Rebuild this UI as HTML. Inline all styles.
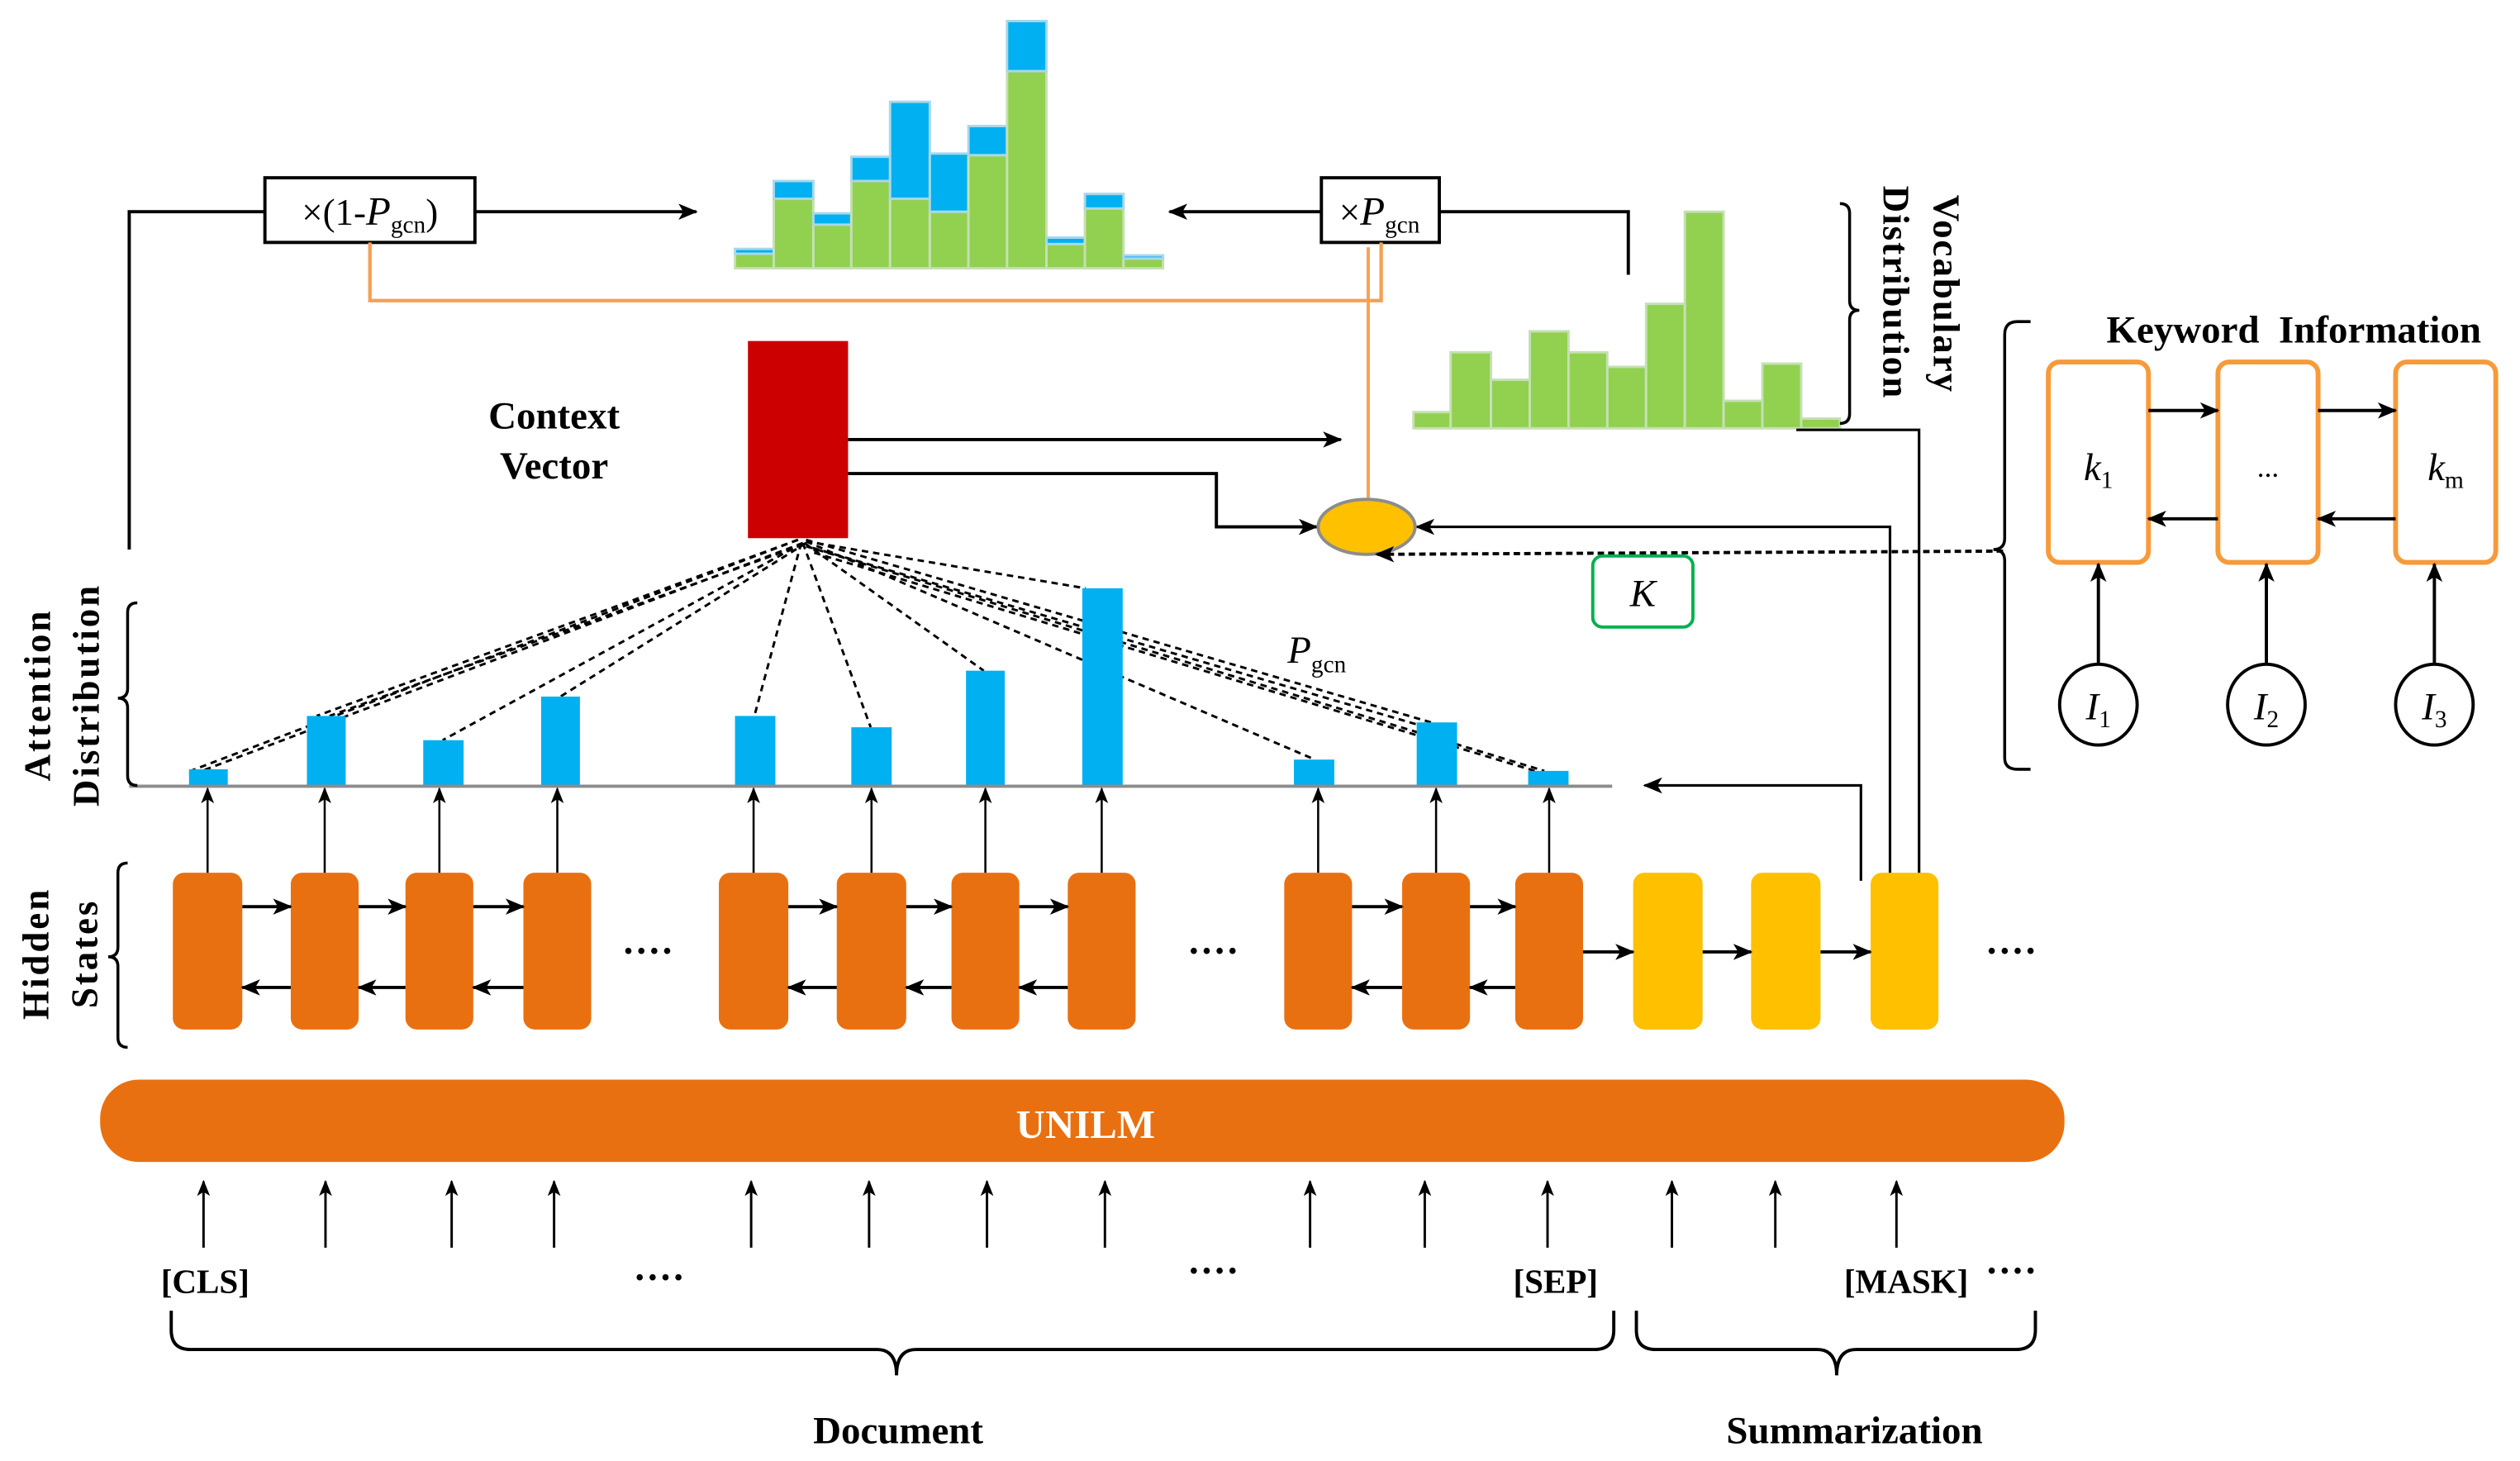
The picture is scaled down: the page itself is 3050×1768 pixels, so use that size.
<!DOCTYPE html>
<html><head><meta charset="utf-8"><style>
html,body{margin:0;padding:0;background:#fff}
svg{display:block}
svg text{font-family:"Liberation Serif","Times New Roman",serif}
.b{font-weight:bold}
</style></head><body>
<svg width="3050" height="1768" viewBox="0 0 1560 904" preserveAspectRatio="none" xmlns="http://www.w3.org/2000/svg" font-family="Liberation Serif, serif">
<defs>
<marker id="a" markerUnits="userSpaceOnUse" markerWidth="12" markerHeight="10" refX="11" refY="5" orient="auto"><path d="M0,0 L12,5 L0,10 L3,5 Z" fill="#000"/></marker>
<marker id="s" markerUnits="userSpaceOnUse" markerWidth="10" markerHeight="8" refX="9" refY="4" orient="auto"><path d="M0,0 L10,4 L0,8 L2.5,4 Z" fill="#000"/></marker>
</defs>

<!-- top left branch -->
<path d="M80,340 V131 H164" fill="none" stroke="#000" stroke-width="2"/>
<rect x="164" y="110" width="130" height="40" fill="#fff" stroke="#000" stroke-width="2"/>
<text x="229" y="139" font-size="23" text-anchor="middle">×(1-<tspan font-style="italic" font-size="25">P</tspan><tspan font-size="15" dy="5">gcn</tspan><tspan dy="-5">)</tspan></text>
<line x1="294" y1="131" x2="431" y2="131" stroke="#000" stroke-width="2" marker-end="url(#a)"/>

<!-- Pgcn box -->
<rect x="818" y="110" width="73" height="40" fill="#fff" stroke="#000" stroke-width="2"/>
<text x="854" y="139" font-size="23" text-anchor="middle">×<tspan font-style="italic" font-size="25">P</tspan><tspan font-size="15" dy="5">gcn</tspan></text>
<line x1="818" y1="131" x2="724" y2="131" stroke="#000" stroke-width="2" marker-end="url(#a)"/>
<path d="M891,131 H1008 V170" fill="none" stroke="#000" stroke-width="2"/>

<!-- orange lines -->
<path d="M229,150 V186 H855 V150" fill="none" stroke="#f5a055" stroke-width="2.2"/>
<line x1="847" y1="153" x2="847" y2="308" stroke="#f5a055" stroke-width="2"/>

<!-- mixed histogram -->
<g stroke-width="1.5">
<rect x="455" y="157" width="24" height="9" fill="#92d050" stroke="#c5e0b4"/><rect x="455" y="154" width="24" height="3" fill="#00b0f0" stroke="#a8d8ea"/>
<rect x="479" y="123" width="24.5" height="43" fill="#92d050" stroke="#c5e0b4"/><rect x="479" y="112" width="24.5" height="11" fill="#00b0f0" stroke="#a8d8ea"/>
<rect x="503.5" y="139" width="23.5" height="27" fill="#92d050" stroke="#c5e0b4"/><rect x="503.5" y="132" width="23.5" height="7" fill="#00b0f0" stroke="#a8d8ea"/>
<rect x="527" y="112" width="24" height="54" fill="#92d050" stroke="#c5e0b4"/><rect x="527" y="97" width="24" height="15" fill="#00b0f0" stroke="#a8d8ea"/>
<rect x="551" y="123" width="24.6" height="43" fill="#92d050" stroke="#c5e0b4"/><rect x="551" y="63" width="24.6" height="60" fill="#00b0f0" stroke="#a8d8ea"/>
<rect x="575.6" y="131" width="23.9" height="35" fill="#92d050" stroke="#c5e0b4"/><rect x="575.6" y="95" width="23.9" height="36" fill="#00b0f0" stroke="#a8d8ea"/>
<rect x="599.5" y="96" width="23.9" height="70" fill="#92d050" stroke="#c5e0b4"/><rect x="599.5" y="78" width="23.9" height="18" fill="#00b0f0" stroke="#a8d8ea"/>
<rect x="623.4" y="44" width="24.4" height="122" fill="#92d050" stroke="#c5e0b4"/><rect x="623.4" y="13" width="24.4" height="31" fill="#00b0f0" stroke="#a8d8ea"/>
<rect x="647.8" y="151" width="23.8" height="15" fill="#92d050" stroke="#c5e0b4"/><rect x="647.8" y="147" width="23.8" height="4" fill="#00b0f0" stroke="#a8d8ea"/>
<rect x="671.6" y="129" width="23.9" height="37" fill="#92d050" stroke="#c5e0b4"/><rect x="671.6" y="120" width="23.9" height="9" fill="#00b0f0" stroke="#a8d8ea"/>
<rect x="695.5" y="160" width="24.5" height="6" fill="#92d050" stroke="#c5e0b4"/><rect x="695.5" y="158" width="24.5" height="2" fill="#00b0f0" stroke="#a8d8ea"/>
</g>

<!-- vocab histogram -->
<g fill="#92d050" stroke="#c5e0b4" stroke-width="1.5">
<rect x="875" y="255" width="23" height="10"/>
<rect x="898" y="218" width="25" height="47"/>
<rect x="923" y="235" width="24" height="30"/>
<rect x="947" y="205" width="24" height="60"/>
<rect x="971" y="218" width="24" height="47"/>
<rect x="995" y="227" width="24" height="38"/>
<rect x="1019" y="188" width="24" height="77"/>
<rect x="1043" y="131" width="24" height="134"/>
<rect x="1067" y="248" width="24" height="17"/>
<rect x="1091" y="225" width="24" height="40"/>
<rect x="1115" y="259" width="24" height="6"/>
</g>
<path d="M1139,126 q6,0 6,6 v54 q0,6 6,6 q-6,0 -6,6 v58 q0,6 -6,6" fill="none" stroke="#000" stroke-width="1.8"/>
<text class="b" font-size="23" letter-spacing="1" transform="translate(1197,182) rotate(90)" text-anchor="middle">Vocabulary</text>
<text class="b" font-size="23" letter-spacing="1" transform="translate(1166,181) rotate(90)" text-anchor="middle">Distribution</text>

<!-- context vector -->
<text class="b" x="343" y="265" font-size="24" text-anchor="middle">Context</text>
<text class="b" x="343" y="296" font-size="24" text-anchor="middle">Vector</text>
<line x1="525" y1="272" x2="830" y2="272" stroke="#000" stroke-width="2" marker-end="url(#a)"/>
<path d="M525,293 H753 V326 H815" fill="none" stroke="#000" stroke-width="2" marker-end="url(#a)"/>

<!-- lines from MASK -->
<path d="M1112,266 H1188 V545" fill="none" stroke="#000" stroke-width="1.6"/>
<path d="M1170,545 V326 H877" fill="none" stroke="#000" stroke-width="1.6" marker-end="url(#a)"/>
<path d="M1152,545 V486 H1018" fill="none" stroke="#000" stroke-width="1.6" marker-end="url(#a)"/>

<!-- ellipse -->
<ellipse cx="846" cy="326" rx="30" ry="17" fill="#ffc000" stroke="#8c8c8c" stroke-width="2"/>
<line x1="1240" y1="341" x2="852" y2="343" stroke="#000" stroke-width="2" stroke-dasharray="4,2.5" marker-end="url(#a)"/>
<rect x="986" y="344" width="62" height="44" rx="6" fill="#fff" stroke="#00b050" stroke-width="2"/>
<text x="1017" y="375" font-size="24" font-style="italic" text-anchor="middle">K</text>

<!-- dashed attention lines -->
<g stroke="#000" stroke-width="1.5" stroke-dasharray="4,3" fill="none">
<line x1="494" y1="334" x2="118" y2="477"/>
<line x1="497" y1="336" x2="125" y2="477"/>
<line x1="494" y1="334" x2="196" y2="443"/>
<line x1="497" y1="337" x2="204" y2="443"/>
<line x1="497" y1="336" x2="274" y2="458"/>
<line x1="499" y1="336" x2="347" y2="431"/>
<line x1="496" y1="336" x2="467" y2="443"/>
<line x1="497" y1="336" x2="539" y2="450"/>
<line x1="498" y1="336" x2="609" y2="415"/>
<line x1="499" y1="335" x2="672" y2="364"/>
<line x1="499" y1="335" x2="814" y2="470"/>
<line x1="499" y1="334" x2="886" y2="447"/>
<line x1="503" y1="339" x2="890" y2="452"/>
<line x1="499" y1="338" x2="956" y2="477"/>
<line x1="504" y1="342" x2="960" y2="480"/>
</g>
<rect x="463" y="211" width="62" height="122" fill="#cc0000"/>
<text x="797" y="410" font-size="24" font-style="italic">P<tspan font-style="normal" font-size="15" dy="6">gcn</tspan></text>

<!-- attention bars -->
<g fill="#00b0f0">
<rect x="117" y="476" width="24" height="10"/>
<rect x="190" y="443" width="24" height="43"/>
<rect x="262" y="458" width="25" height="28"/>
<rect x="335" y="431" width="24" height="55"/>
<rect x="455" y="443" width="25" height="43"/>
<rect x="527" y="450" width="25" height="36"/>
<rect x="598" y="415" width="24" height="71"/>
<rect x="670" y="364" width="25" height="122"/>
<rect x="801" y="470" width="25" height="16"/>
<rect x="877" y="447" width="25" height="39"/>
<rect x="946" y="477" width="25" height="9"/>
</g>
<line x1="80" y1="486.5" x2="998" y2="486.5" stroke="#8c8c8c" stroke-width="2"/>

<!-- left braces and labels -->
<path d="M85,373 q-6,0 -6,6 v47 q0,6 -6,6 q6,0 6,6 v42 q0,6 6,6" fill="none" stroke="#000" stroke-width="1.8"/>
<path d="M79,534 q-6,0 -6,6 v46 q0,6 -6,6 q6,0 6,6 v44 q0,6 6,6" fill="none" stroke="#000" stroke-width="1.8"/>
<text class="b" font-size="23" letter-spacing="1.5" transform="translate(31,430) rotate(-90)" text-anchor="middle">Attention</text>
<text class="b" font-size="23" letter-spacing="1.5" transform="translate(61,430) rotate(-90)" text-anchor="middle">Distribution</text>
<text class="b" font-size="23" letter-spacing="1.5" transform="translate(30,590) rotate(-90)" text-anchor="middle">Hidden</text>
<text class="b" font-size="23" letter-spacing="1.5" transform="translate(60,590) rotate(-90)" text-anchor="middle">States</text>

<!-- hidden state boxes -->
<g fill="#e97011">
<rect x="107" y="540" width="43" height="97" rx="7"/>
<rect x="180" y="540" width="42" height="97" rx="7"/>
<rect x="251" y="540" width="42" height="97" rx="7"/>
<rect x="324" y="540" width="42" height="97" rx="7"/>
<rect x="445" y="540" width="43" height="97" rx="7"/>
<rect x="518" y="540" width="43" height="97" rx="7"/>
<rect x="589" y="540" width="42" height="97" rx="7"/>
<rect x="661" y="540" width="42" height="97" rx="7"/>
<rect x="795" y="540" width="42" height="97" rx="7"/>
<rect x="868" y="540" width="42" height="97" rx="7"/>
<rect x="938" y="540" width="42" height="97" rx="7"/>
</g>
<g fill="#ffc000">
<rect x="1011" y="540" width="43" height="97" rx="7"/>
<rect x="1084" y="540" width="43" height="97" rx="7"/>
<rect x="1158" y="540" width="42" height="97" rx="7"/>
</g>
<g stroke="#000" stroke-width="1.3" marker-end="url(#s)">
<line x1="128.5" y1="540" x2="128.5" y2="488"/><line x1="201" y1="540" x2="201" y2="488"/>
<line x1="272" y1="540" x2="272" y2="488"/><line x1="345" y1="540" x2="345" y2="488"/>
<line x1="466.5" y1="540" x2="466.5" y2="488"/><line x1="539.5" y1="540" x2="539.5" y2="488"/>
<line x1="610" y1="540" x2="610" y2="488"/><line x1="682" y1="540" x2="682" y2="488"/>
<line x1="816" y1="540" x2="816" y2="488"/><line x1="889" y1="540" x2="889" y2="488"/>
<line x1="959" y1="540" x2="959" y2="488"/>
</g>
<g stroke="#000" stroke-width="2" marker-end="url(#a)">
<line x1="150" y1="561" x2="180" y2="561"/><line x1="222" y1="561" x2="251" y2="561"/><line x1="293" y1="561" x2="324" y2="561"/>
<line x1="488" y1="561" x2="518" y2="561"/><line x1="561" y1="561" x2="589" y2="561"/><line x1="631" y1="561" x2="661" y2="561"/>
<line x1="837" y1="561" x2="868" y2="561"/><line x1="910" y1="561" x2="938" y2="561"/>
<line x1="180" y1="611" x2="150" y2="611"/><line x1="251" y1="611" x2="222" y2="611"/><line x1="324" y1="611" x2="293" y2="611"/>
<line x1="518" y1="611" x2="488" y2="611"/><line x1="589" y1="611" x2="561" y2="611"/><line x1="661" y1="611" x2="631" y2="611"/>
<line x1="868" y1="611" x2="837" y2="611"/><line x1="938" y1="611" x2="910" y2="611"/>
<line x1="980" y1="589" x2="1011" y2="589"/><line x1="1054" y1="589" x2="1084" y2="589"/><line x1="1127" y1="589" x2="1158" y2="589"/>
</g>
<g font-size="24" class="b" text-anchor="middle">
<text x="402" y="590" letter-spacing="2">....</text>
<text x="752" y="590" letter-spacing="2">....</text>
<text x="1246" y="590" letter-spacing="2">....</text>
<text x="409" y="792" letter-spacing="2">....</text>
<text x="752" y="788" letter-spacing="2">....</text>
<text x="1246" y="788" letter-spacing="2">....</text>
</g>

<!-- UNILM -->
<rect x="62" y="668" width="1216" height="51" rx="24" fill="#e97011"/>
<text class="b" x="672" y="704" font-size="25" fill="#fff" text-anchor="middle">UNILM</text>

<!-- input arrows -->
<g stroke="#000" stroke-width="1.5" marker-end="url(#s)">
<line x1="126" y1="772" x2="126" y2="731"/><line x1="201.5" y1="772" x2="201.5" y2="731"/>
<line x1="279.6" y1="772" x2="279.6" y2="731"/><line x1="343" y1="772" x2="343" y2="731"/>
<line x1="465" y1="772" x2="465" y2="731"/><line x1="538" y1="772" x2="538" y2="731"/>
<line x1="611" y1="772" x2="611" y2="731"/><line x1="684" y1="772" x2="684" y2="731"/>
<line x1="811" y1="772" x2="811" y2="731"/><line x1="882" y1="772" x2="882" y2="731"/>
<line x1="958" y1="772" x2="958" y2="731"/><line x1="1035" y1="772" x2="1035" y2="731"/>
<line x1="1099" y1="772" x2="1099" y2="731"/><line x1="1174" y1="772" x2="1174" y2="731"/>
</g>
<g font-size="21" class="b" text-anchor="middle">
<text x="127" y="800">[CLS]</text>
<text x="963" y="800">[SEP]</text>
<text x="1180" y="800">[MASK]</text>
</g>

<!-- bottom braces -->
<path d="M106,811 v12 q0,12 12,12 h425 q12,0 12,16 q0,-16 12,-16 h420 q12,0 12,-12 v-12" fill="none" stroke="#000" stroke-width="2"/>
<path d="M1013,811 v12 q0,12 12,12 h100 q12,0 12,16 q0,-16 12,-16 h99 q12,0 12,-12 v-12" fill="none" stroke="#000" stroke-width="2"/>
<text class="b" x="556" y="893" font-size="24" text-anchor="middle">Document</text>
<text class="b" x="1148" y="893" font-size="24" text-anchor="middle">Summarization</text>

<!-- keyword information -->
<path d="M1257,199 h-8 q-8,0 -8,8 v126 q0,7 -7,7 q7,0 7,7 v122 q0,7 8,7 h8" fill="none" stroke="#000" stroke-width="1.8"/>
<text class="b" x="1420" y="212" font-size="24" text-anchor="middle" word-spacing="6">Keyword  Information</text>
<g fill="#fff" stroke="#f79a3a" stroke-width="3">
<rect x="1268" y="224" width="62" height="124" rx="7"/>
<rect x="1373" y="224" width="62" height="124" rx="7"/>
<rect x="1483" y="224" width="62" height="124" rx="7"/>
</g>
<text x="1299" y="297" font-size="24" font-style="italic" text-anchor="middle">k<tspan font-style="normal" font-size="15" dy="5">1</tspan></text>
<text x="1404" y="295" font-size="18" text-anchor="middle">...</text>
<text x="1514" y="297" font-size="24" font-style="italic" text-anchor="middle">k<tspan font-style="normal" font-size="15" dy="5">m</tspan></text>
<g stroke="#000" stroke-width="2" marker-end="url(#a)">
<line x1="1330" y1="254" x2="1373" y2="254"/><line x1="1435" y1="254" x2="1483" y2="254"/>
<line x1="1373" y1="321" x2="1330" y2="321"/><line x1="1483" y1="321" x2="1435" y2="321"/>
<line x1="1299" y1="411" x2="1299" y2="349"/><line x1="1403" y1="411" x2="1403" y2="349"/><line x1="1507" y1="411" x2="1507" y2="349"/>
</g>
<g fill="#fff" stroke="#000" stroke-width="2">
<ellipse cx="1299" cy="436" rx="24" ry="25"/>
<ellipse cx="1403" cy="436" rx="24" ry="25"/>
<ellipse cx="1507" cy="436" rx="24" ry="25"/>
</g>
<text x="1299" y="445" font-size="24" font-style="italic" text-anchor="middle">I<tspan font-style="normal" font-size="15" dy="5">1</tspan></text>
<text x="1403" y="445" font-size="24" font-style="italic" text-anchor="middle">I<tspan font-style="normal" font-size="15" dy="5">2</tspan></text>
<text x="1507" y="445" font-size="24" font-style="italic" text-anchor="middle">I<tspan font-style="normal" font-size="15" dy="5">3</tspan></text>
</svg>
</body></html>
